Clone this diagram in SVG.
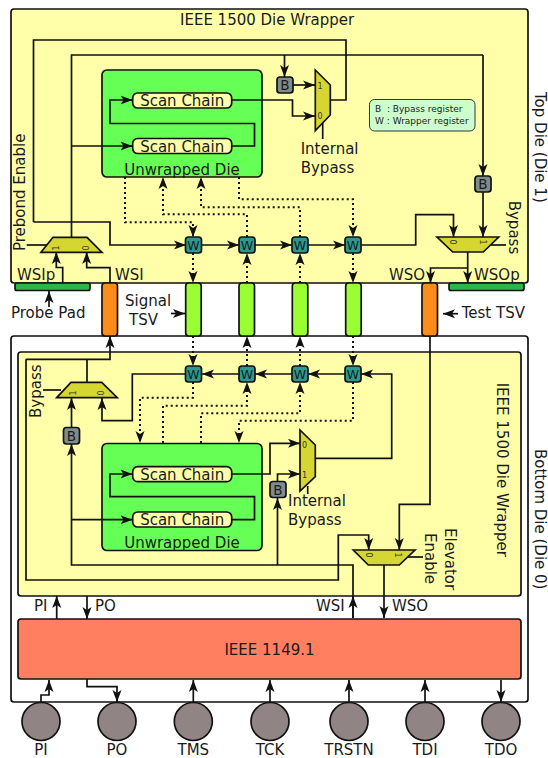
<svg xmlns="http://www.w3.org/2000/svg" width="548" height="758" viewBox="0 0 548 758">
<style>
text{font-family:"DejaVu Sans",sans-serif;font-size:15px;fill:#1a1a1a}
.box{stroke:#111;stroke-width:1.7}
.w{fill:#2a9a90;stroke:#111;stroke-width:1.7}
.b{fill:#7f8c8a;stroke:#111;stroke-width:1.7}
.mux{fill:#d6d633;stroke:#111;stroke-width:1.7;stroke-linejoin:miter}
.tsv{fill:#99ff33;stroke:#111;stroke-width:1.7}
.test{fill:#ff8c1a;stroke:#111;stroke-width:1.7}
.pad{fill:#2fb34f;stroke:#111;stroke-width:1.7}
.sc{fill:#ffffaa;stroke:#111;stroke-width:1.7}
.pin{fill:#918484;stroke:#111;stroke-width:1.7}
.l{fill:none;stroke:#111;stroke-width:1.7;stroke-linejoin:miter}
.a{marker-end:url(#ah)}
.d{fill:none;stroke:#111;stroke-width:2;stroke-dasharray:2 3}
.m{font-size:8px;fill:#333}
.lg{font-size:9px;fill:#222}
.c{text-anchor:middle}
.wt{font-size:12.500px;text-anchor:middle}
.bt{font-size:13.500px;text-anchor:middle}
</style>
<defs>
<marker id="ah" markerUnits="userSpaceOnUse" markerWidth="14" markerHeight="10" refX="12" refY="5" orient="auto"><path d="M0,0.500 L12,5 L0,9.500 L3,5 z" fill="#111"/></marker>
</defs>
<g id="top-die"><rect class="box" x="11" y="9" width="517" height="274" rx="3" fill="#ffffaa"/><text x="180" y="25">IEEE 1500 Die Wrapper</text></g>
<g id="bottom-die"><rect class="box" x="11" y="336" width="517" height="366" rx="3" fill="#fff"/></g>
<g id="bottom-wrapper"><rect class="box" x="18" y="352" width="503" height="244" rx="3" fill="#ffffaa"/></g>
<g id="top-unwrapped"><rect class="box" x="102" y="70" width="160" height="107" rx="5" fill="#66ff55"/></g>
<g id="bottom-unwrapped"><rect class="box" x="102" y="443.500" width="160" height="107" rx="5" fill="#66ff55"/></g>
<g id="connectors">
<path class="l" d="M33.500,222V40H346V100H331"/>
<path class="l a" d="M33.500,222H110V245H186"/>
<path class="l" d="M71.500,237V55H483"/>
<path class="l a" d="M483,55V176"/>
<path class="l a" d="M284.500,55V77"/>
<path class="l a" d="M293,85H315"/>
<path class="l a" d="M232,100H292.500V116H315"/>
<path class="l" d="M322.700,123V139"/>
<path class="l a" d="M71.500,146H132.500"/>
<path class="l a" d="M232,146H254.500V123.500H110V100H132.500"/>
<path class="l a" d="M201.700,245H239"/>
<path class="l a" d="M255,245H292"/>
<path class="l a" d="M308,245H345"/>
<path class="l a" d="M361,245H415.700V214.700H453.500V237"/>
<path class="l a" d="M483,192V237"/>
<path class="l" d="M490,245H506"/>
<path class="l a" d="M467.700,252V283"/>
<path class="l a" d="M467.700,268H430.500V283"/>
<path class="l" d="M26.700,245H47"/>
<path class="l a" d="M62.700,283V267.500H56.300V252"/>
<path class="l a" d="M110,283V267.700H86.700V252"/>
<path class="l a" d="M49,307V291"/>
<path class="l a" d="M171,313.500H185"/>
<path class="l a" d="M458,313.700H443"/>
<path class="d a" d="M125,177V222.300H193V237"/>
<path class="d a" d="M247,237V214.300H163V177"/>
<path class="d a" d="M300,237V207.300H201V177"/>
<path class="d a" d="M239,177V199.300H353V237"/>
<path class="d a" d="M193,253V283"/>
<path class="d a" d="M247,283V253"/>
<path class="d a" d="M300,283V253"/>
<path class="d a" d="M353,253V283"/>
<path class="d a" d="M193,336V366"/>
<path class="d a" d="M247,366V336"/>
<path class="d a" d="M300,366V336"/>
<path class="d a" d="M353,336V366"/>
<path class="d a" d="M193,382V397.700H140V443"/>
<path class="d a" d="M163,443V405.700H247V382"/>
<path class="d a" d="M201,443V413.300H300V382"/>
<path class="d a" d="M353,382V420.700H239V443"/>
<path class="l a" d="M315,458.300H391.700V374H361"/>
<path class="l a" d="M345,374H308"/>
<path class="l a" d="M292,374H255"/>
<path class="l a" d="M239,374H202"/>
<path class="l a" d="M185,374H132.300V420.700H102V398"/>
<path class="l" d="M87,382V359.300"/>
<path class="l a" d="M26,359.300H110V336"/>
<path class="l a" d="M26,359.300V580H338.300V535H368.700V550"/>
<path class="l" d="M43,390H61"/>
<path class="l a" d="M71.500,427.500V398"/>
<path class="l a" d="M353,618V565H71.500V444"/>
<path class="l a" d="M71.500,519.700H132.500"/>
<path class="l a" d="M232,519.700H254.500V496.700H110V474H132.500"/>
<path class="l a" d="M232,474H270V443.300H300"/>
<path class="l a" d="M277.500,482V474H300"/>
<path class="l a" d="M277.500,565V498"/>
<path class="l" d="M307.700,486V494"/>
<path class="l a" d="M430,336V504.300H399.300V550"/>
<path class="l a" d="M384,565V618"/>
<path class="l" d="M406.700,557H423"/>
<path class="l a" d="M56.700,619V596"/>
<path class="l a" d="M87,596V619"/>
<path class="l a" d="M41,702V695H49V680"/>
<path class="l a" d="M87,679V686.700H117V702"/>
<path class="l a" d="M193.300,702V680"/>
<path class="l a" d="M270,702V680"/>
<path class="l a" d="M349,702V680"/>
<path class="l a" d="M425,702V680"/>
<path class="l a" d="M501,680V702"/>
<path class="l a" d="M353,618V596"/>
</g>
<g id="scan-top-1"><rect class="sc" x="132.700" y="93" width="99" height="15" rx="5"/><text class="c" x="182.200" y="106">Scan Chain</text></g>
<g id="scan-top-2"><rect class="sc" x="132.700" y="138.500" width="99" height="15" rx="5"/><text class="c" x="182.200" y="151.500">Scan Chain</text></g>
<g id="label-top-unwrapped"><text class="c" x="182" y="175">Unwrapped Die</text></g>
<g id="scan-bot-1"><rect class="sc" x="132.700" y="466.700" width="99" height="15" rx="5"/><text class="c" x="182.200" y="479.700">Scan Chain</text></g>
<g id="scan-bot-2"><rect class="sc" x="132.700" y="512" width="99" height="15" rx="5"/><text class="c" x="182.200" y="525">Scan Chain</text></g>
<g id="label-bot-unwrapped"><text class="c" x="182" y="548">Unwrapped Die</text></g>
<g id="w-top"><rect class="w" x="185.500" y="237" width="16" height="16" rx="3"/><text class="wt" x="193.500" y="249.700">W</text><rect class="w" x="239" y="237" width="16" height="16" rx="3"/><text class="wt" x="247" y="249.700">W</text><rect class="w" x="292" y="237" width="16" height="16" rx="3"/><text class="wt" x="300" y="249.700">W</text><rect class="w" x="345" y="237" width="16" height="16" rx="3"/><text class="wt" x="353" y="249.700">W</text></g>
<g id="w-bottom"><rect class="w" x="185.500" y="366" width="16" height="16" rx="3"/><text class="wt" x="193.500" y="378.700">W</text><rect class="w" x="239" y="366" width="16" height="16" rx="3"/><text class="wt" x="247" y="378.700">W</text><rect class="w" x="292" y="366" width="16" height="16" rx="3"/><text class="wt" x="300" y="378.700">W</text><rect class="w" x="345" y="366" width="16" height="16" rx="3"/><text class="wt" x="353" y="378.700">W</text></g>
<g id="b-top-1"><rect class="b" x="277" y="77" width="16" height="16" rx="3"/><text class="bt" x="285" y="90">B</text></g>
<g id="b-top-2"><rect class="b" x="475" y="176" width="16" height="16" rx="3"/><text class="bt" x="483" y="189">B</text></g>
<g id="b-bot-1"><rect class="b" x="63.500" y="427.500" width="16" height="16.500" rx="3"/><text class="bt" x="71.500" y="441">B</text></g>
<g id="b-bot-2"><rect class="b" x="270" y="481.500" width="16" height="16" rx="3"/><text class="bt" x="278" y="494.500">B</text></g>
<g id="mux-prebond"><path class="mux" d="M41,252.300L53,237.300H87L102,252.300z"/><text class="m c" transform="translate(59,248) rotate(-90)">1</text><text class="m c" transform="translate(89,248) rotate(-90)">0</text></g>
<g id="mux-internal-top"><path class="mux" d="M315.300,70L330.300,85V115L315.300,130.700z"/><text class="m" x="317.500" y="88.500">1</text><text class="m" x="317.500" y="118.500">0</text></g>
<g id="mux-bypass-top"><path class="mux" d="M437,237H498.700L483.300,252H452.700z"/><text class="m c" transform="translate(449.500,242) rotate(90)">0</text><text class="m c" transform="translate(479.500,242) rotate(90)">1</text></g>
<g id="mux-bypass-bot"><path class="mux" d="M56.700,397.700L71,382.300H101.700L117.300,397.700z"/><text class="m c" transform="translate(75.500,393) rotate(-90)">1</text><text class="m c" transform="translate(104,393) rotate(-90)">0</text></g>
<g id="mux-internal-bot"><path class="mux" d="M300,430L315.300,445V476.700L300,491z"/><text class="m" x="302" y="448">0</text><text class="m" x="302" y="478">1</text></g>
<g id="mux-elevator"><path class="mux" d="M353.300,550H415L399.300,565H368.300z"/><text class="m c" transform="translate(366,555) rotate(90)">0</text><text class="m c" transform="translate(395,555) rotate(90)">1</text></g>
<g id="legend"><rect x="369.500" y="99.500" width="105.500" height="31.500" rx="5" fill="#ccffcc" stroke="#334" stroke-width="1"/><text class="lg" x="375" y="112.300" xml:space="preserve">B  : Bypass register</text><text class="lg" x="375" y="124">W : Wrapper register</text></g>
<g id="tsv-signal"><rect class="tsv" x="185.700" y="283" width="15.500" height="53" rx="3"/><rect class="tsv" x="239" y="283" width="15.500" height="53" rx="3"/><rect class="tsv" x="292.300" y="283" width="15.500" height="53" rx="3"/><rect class="tsv" x="345.700" y="283" width="15.500" height="53" rx="3"/></g>
<g id="tsv-test"><rect class="test" x="102" y="283" width="15.500" height="53" rx="3"/><rect class="test" x="422" y="283" width="15.500" height="53" rx="3"/></g>
<g id="probe-pads"><rect class="pad" x="15" y="283" width="75" height="7.500" rx="2"/><rect class="pad" x="449" y="283" width="75" height="7.500" rx="2"/></g>
<g id="tap"><rect class="box" x="18" y="619" width="503" height="60" rx="3" fill="#ff7f60"/><text class="c" x="269.500" y="655">IEEE 1149.1</text></g>
<g id="pins">
<circle class="pin" cx="41" cy="721.500" r="19"/><circle class="pin" cx="117" cy="721.500" r="19"/><circle class="pin" cx="193.300" cy="721.500" r="19"/><circle class="pin" cx="270" cy="721.500" r="19"/><circle class="pin" cx="349" cy="721.500" r="19"/><circle class="pin" cx="425" cy="721.500" r="19"/><circle class="pin" cx="501" cy="721.500" r="19"/>
<text class="c" x="41" y="755">PI</text><text class="c" x="117" y="755">PO</text><text class="c" x="193.300" y="755">TMS</text><text class="c" x="270" y="755">TCK</text><text class="c" x="349" y="755">TRSTN</text><text class="c" x="425" y="755">TDI</text><text class="c" x="501" y="755">TDO</text>
</g>
<g id="labels">
<text x="300.700" y="153.500">Internal</text><text x="300.700" y="172.700">Bypass</text>
<text x="288" y="506">Internal</text><text x="288" y="525">Bypass</text>
<text x="17" y="280">WSIp</text><text x="115" y="280">WSI</text><text x="389" y="280">WSO</text><text x="474" y="280">WSOp</text>
<text x="11" y="318">Probe Pad</text>
<text x="125" y="306">Signal</text><text x="129" y="325">TSV</text><text x="461.700" y="317.700">Test TSV</text>
<text x="34" y="611">PI</text><text x="95" y="611">PO</text><text x="316" y="611">WSI</text><text x="392" y="611">WSO</text>
<text transform="translate(25,251) rotate(-90)">Prebond Enable</text>
<text transform="translate(41,418) rotate(-90)">Bypass</text>
<text transform="translate(509,200.700) rotate(90)">Bypass</text>
<text transform="translate(535,92) rotate(90)">Top Die (Die 1)</text>
<text transform="translate(535,449) rotate(90)">Bottom Die (Die 0)</text>
<text transform="translate(497,382.700) rotate(90)">IEEE 1500 Die Wrapper</text>
<text transform="translate(445,528) rotate(90)">Elevator</text>
<text transform="translate(425,533) rotate(90)">Enable</text>
</g>
</svg>
